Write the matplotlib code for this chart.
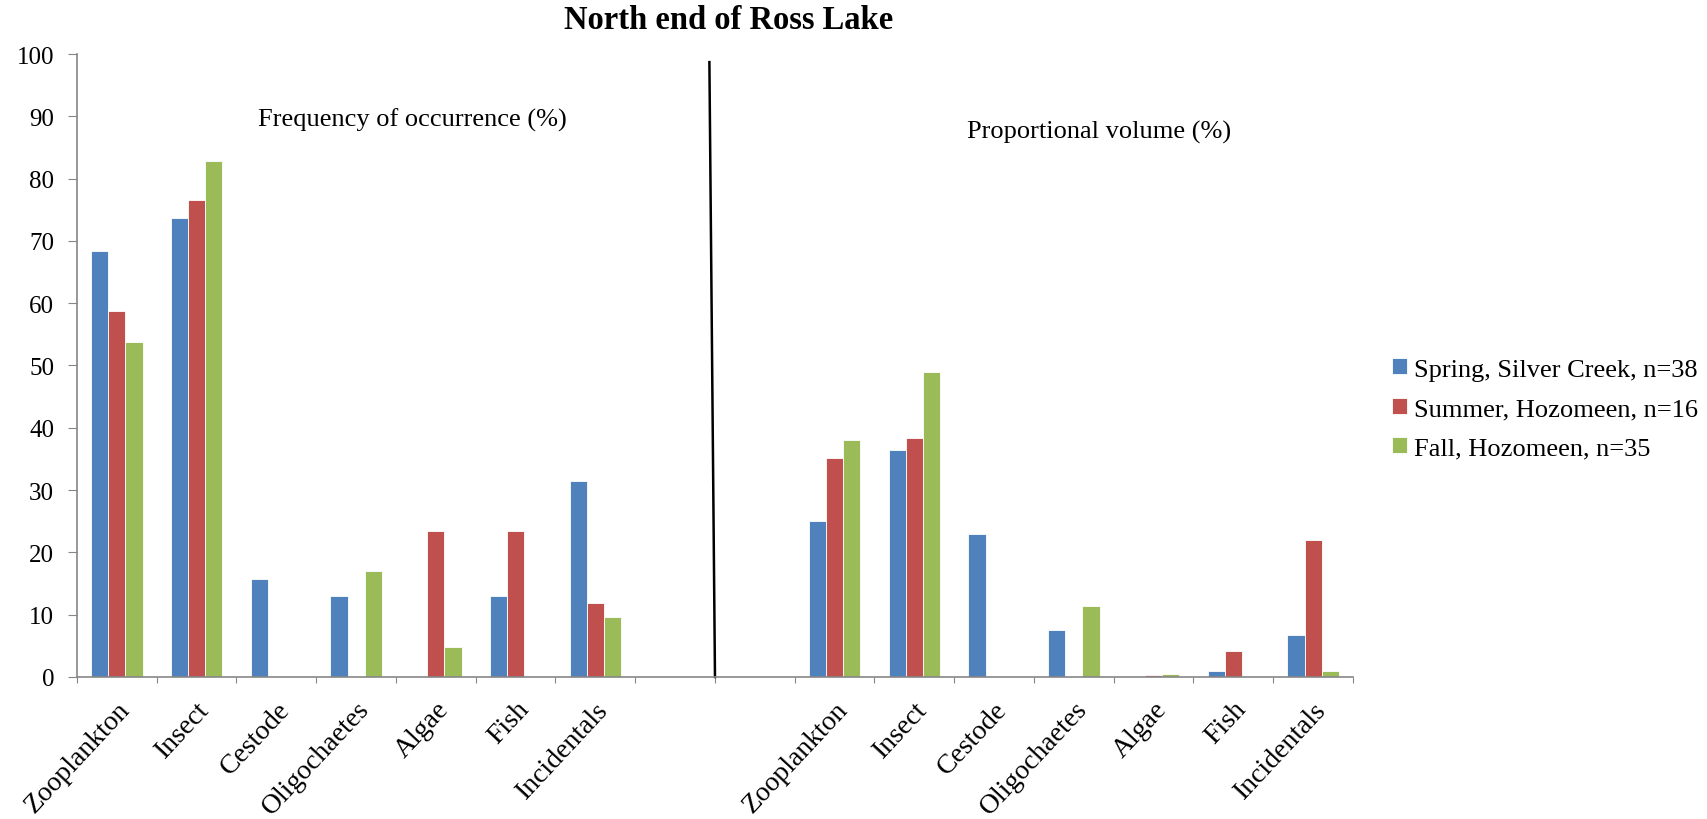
import numpy as np
import matplotlib
matplotlib.use('Agg')
from matplotlib import pyplot as plt

plt.rcParams['font.family'] = ['Liberation Serif', 'DejaVu Serif']

# data
prey = ['Zooplankton', 'Insect', 'Cestode', 'Oligochaetes', 'Algae', 'Fish', 'Incidentals']
series = ['Spring, Silver Creek, n=38', 'Summer, Hozomeen, n=16', 'Fall, Hozomeen, n=35']
colors = ['#4F81BD', '#C0504D', '#9BBB59']

# frequency of occurrence (%)
freq_spring = [68.4, 73.6, 15.7, 13.0, 0.0, 13.0, 31.4]
freq_summer = [58.7, 76.5, 0.0, 0.0, 23.5, 23.5, 11.8]
freq_fall = [53.7, 82.8, 0.0, 17.0, 4.8, 0.0, 9.7]

# proportional volume (%)
vol_spring = [25.1, 36.5, 22.9, 7.6, 0.0, 0.9, 6.8]
vol_summer = [35.1, 38.3, 0.0, 0.0, 0.3, 4.2, 22.0]
vol_fall = [38.0, 49.0, 0.0, 11.4, 0.5, 0.0, 0.9]

# two blank slots separate the two panels
labels = prey + ['', ''] + prey
spring = freq_spring + [0, 0] + vol_spring
summer = freq_summer + [0, 0] + vol_summer
fall = freq_fall + [0, 0] + vol_fall

fig = plt.figure(figsize=(17.07, 8.2), dpi=100)
ax = fig.add_axes([0.0451, 0.1732, 0.7475, 0.7597])

x = np.arange(len(labels))
w = 0.215
for i, (vals, c, name) in enumerate(zip([spring, summer, fall], colors, series)):
    ax.bar(x + (i - 1) * w, vals, w, color=c, edgecolor='white', linewidth=0.6, label=name)

ax.set_xlim(-0.5, len(labels) - 0.5)
ax.set_ylim(0, 100)
ax.set_yticks(np.arange(0, 101, 10))
ax.tick_params(axis='y', labelsize=18, length=6.5, color='#868686', pad=10)

# category ticks at boundaries, labels at centres
ax.set_xticks(np.arange(-0.5, len(labels), 1.0))
ax.set_xticklabels([])
ax.tick_params(axis='x', length=4.5, color='#868686')
ax.set_xticks(x, minor=True)
ax.set_xticklabels(labels, minor=True, rotation=47, ha='right', va='top',
                   rotation_mode='anchor', fontsize=20)
ax.tick_params(axis='x', which='minor', length=0, pad=14)

for s in ['top', 'right']:
    ax.spines[s].set_visible(False)
for s in ['left', 'bottom']:
    ax.spines[s].set_color('#868686')
    ax.spines[s].set_linewidth(1.2)

# divider between the two panels
ax.plot([7.43, 7.5], [98.7, 0], color='black', linewidth=1.8, clip_on=False)

ax.text(3.71, 89.5, 'Frequency of occurrence (%)', ha='center', va='center', fontsize=19)
ax.text(12.32, 87.6, 'Proportional volume (%)', ha='center', va='center', fontsize=19)

fig.text(0.427, 0.975, 'North end of Ross Lake', ha='center', va='center',
         fontsize=23.5, fontweight='bold')

fig.legend(loc='center left', bbox_to_anchor=(0.808, 0.5), frameon=False,
           borderpad=0, fontsize=19, handlelength=0.55, handleheight=0.55,
           handletextpad=0.25, labelspacing=0.65)

fig.savefig('out.png', dpi=100)
plt.close()
